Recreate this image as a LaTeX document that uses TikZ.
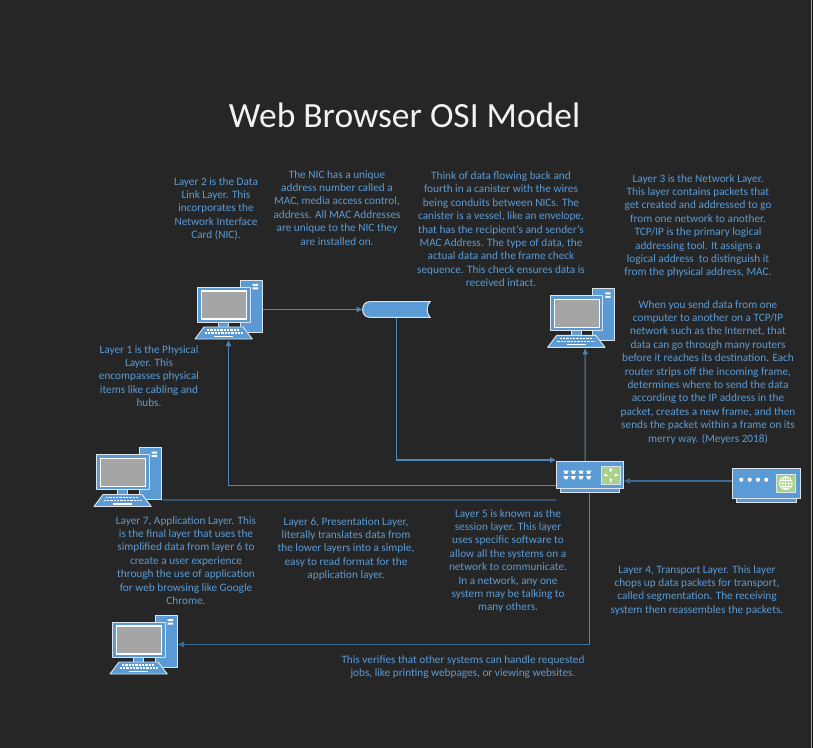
\documentclass[tikz,border=0pt]{standalone}
\usepackage{fontspec}
\setmainfont{Carlito}
\usetikzlibrary{arrows.meta}
\definecolor{bgc}{HTML}{262626}
\definecolor{office}{HTML}{5B9BD5}
\definecolor{linec}{HTML}{4F86B8}
\definecolor{thickc}{HTML}{3A6A96}
\definecolor{edge}{HTML}{DDE3E8}
\definecolor{scr}{HTML}{A5A5A5}
\definecolor{grn}{HTML}{A9D18E}
\tikzset{
  x=0.75pt,y=-0.75pt,
  txt/.style={text=office,font=\fontsize{8.45pt}{10.05pt}\selectfont,align=center,anchor=north,inner sep=0pt},
  titletxt/.style={text=white!95!black,font=\fontsize{26.6pt}{30pt}\selectfont,inner sep=0pt},
  devbox/.style={inner sep=0pt,outer sep=0pt,minimum width=#1},
  conn/.style={draw=linec,line width=0.8pt},
  connarrow/.style={conn,-{Latex[length=4.5pt,width=4.5pt]}},
  thickconn/.style={draw=thickc,line width=1.1pt},
  thickarrow/.style={thickconn,-{Latex[length=5pt,width=5pt]}},
  part/.style={fill=office,draw=edge,line width=0.7pt,line join=round},
  computer/.pic={
    \path[part] (45,0) rectangle (67,52);
    \path[fill=white] (57.7,4) rectangle (63,6) (57.7,7.5) rectangle (63,9.5);
    \path[part] (23.5,42) rectangle (33.5,47);
    \path[part] (2.5,7) rectangle (55,42);
    \path[fill=scr,draw=white,line width=0.8pt] (6.5,11) rectangle (51.7,39);
    \path[part] (9,47) -- (48,47) -- (57.3,59) -- (0,59) -- cycle;
    \foreach \r/\a/\b in {50/12/45,53/9.5/47.5}
      \draw[white,line width=1pt,dash pattern=on 1.8pt off 0.7pt] (\a,\r) -- (\b,\r);
    \path[fill=white] (19,55.5) rectangle (38,57);
  },
  basepart/.style={fill=office,draw=edge,line width=0.7pt},
  switchbox/.pic={
    \path[basepart] (4,26) rectangle (63.3,31);
    \path[basepart] (0,0) rectangle (67.7,27.4);
    \foreach \u in {10,17.3,25,32.7}
      \foreach \v in {11,16.4}
        \path[fill=white] (\u-2.6,\v-1.6) -- (\u+2.6,\v-1.6) -- (\u+1.2,\v+1.6) -- (\u-1.2,\v+1.6) -- cycle;
    \path[fill=grn,draw=edge,line width=0.6pt] (45.7,4.7) rectangle (64,22.7);
    \draw[white,line width=0.6pt,-{Latex[length=2.5pt,width=2.5pt]}] (54.8,10.7) -- (54.8,6);
    \draw[white,line width=0.6pt,-{Latex[length=2.5pt,width=2.5pt]}] (54.8,16.7) -- (54.8,21.4);
    \draw[white,line width=0.6pt,{Latex[length=2.5pt,width=2.5pt]}-] (47,13.7) -- (52,13.7);
    \draw[white,line width=0.6pt,{Latex[length=2.5pt,width=2.5pt]}-] (62.6,13.7) -- (57.6,13.7);
  },
  routerbox/.pic={
    \path[basepart] (4.4,28) rectangle (63.7,33.6);
    \path[basepart] (0,0) rectangle (67.7,29.6);
    \foreach \u in {9,17.4,25.7,34}
      \path[fill=white] (\u,11) circle[radius=2.1];
    \path[fill=grn,draw=edge,line width=0.6pt] (44.4,5.6) rectangle (62.7,23.3);
    \draw[white,line width=0.6pt] (53.5,14.5) circle[radius=6.4];
    \draw[white,line width=0.5pt] (53.5,8.1) -- (53.5,20.9) (47.1,14.5) -- (59.9,14.5)
      (48,11.3) -- (59,11.3) (48,17.7) -- (59,17.7);
    \draw[white,line width=0.5pt] (53.5,14.5) ellipse[x radius=3,y radius=6.4];
  },
  canister/.pic={
    \path[fill=office,draw=edge,line width=0.8pt]
      (67.3,0) -- (7,0) .. controls (2,0) and (0,4) .. (0,7.8) .. controls (0,11.6) and (2,15.6) .. (7,15.6) -- (67.3,15.6)
      .. controls (63.5,12) and (63.5,3.6) .. (67.3,0) -- cycle;
  }
}
\begin{document}
\begin{tikzpicture}
\path[fill=bgc] (0,0) rectangle (813,748);
\path[fill=black!65!bgc] (812,0) rectangle (813,748);
\path[fill=black!35!white] (811,0) rectangle (812,748);
\useasboundingbox (0,0) rectangle (813,748);

\node[titletxt] (title) at (404.5,115) {Web Browser OSI Model};

% device placeholders (for connector ends)
\node[devbox=50.25pt,minimum height=44.25pt] (pcA) at (228.5,309.5) {};
\node[devbox=50.25pt,minimum height=44.25pt] (pcB) at (581.2,317.8) {};
\node[devbox=50.25pt,minimum height=44.25pt] (pcC) at (128,477) {};
\node[devbox=50.25pt,minimum height=44.25pt] (pcD) at (144,644.5) {};
\node[devbox=50.5pt,minimum height=23.25pt] (switch) at (589.85,476.8) {};
\node[devbox=50.5pt,minimum height=25.5pt] (router) at (766.2,485.5) {};
\node[devbox=50.5pt,minimum height=11.7pt] (can) at (396.4,309.5) {};

% connectors
\draw[connarrow] (pcA.east) -- (can.west);
\draw[connarrow] (can.south) |- ([yshift=1pt]switch.north west);
\draw[connarrow] ([yshift=-6.2pt]switch.west) -| ([yshift=-0.75pt]pcA.south);
\draw[connarrow] ([xshift=-3.6pt]switch.north) -- ([xshift=3pt,yshift=-0.75pt]pcB.south);
\draw[thickarrow] ([yshift=3.4pt]router.west) -- ([yshift=3.4pt]router.west -| switch.east);
\draw[thickconn] ([yshift=-17.25pt]pcC.east) -- ([yshift=-17.4pt]switch.west);
\draw[conn] (switch.south) -- (switch.south |- pcD.east);
\draw[thickarrow] (switch.south |- pcD.east) -- (pcD.east);

% devices
\pic at (195,280) {computer};
\pic at (547.7,288.3) {computer};
\pic at (94,447.5) {computer};
\pic at (110,615) {computer};
\pic at (556,461.3) {switchbox};
\pic at (732.3,468.7) {routerbox};
\pic at (362.7,301.7) {canister};

% texts
\node[txt] (t2) at (216,177) {Layer 2 is the Data\\Link Layer. This\\incorporates the\\Network Interface\\Card (NIC).};
\node[txt] (tnic) at (337,170) {The NIC has a unique\\address number called a\\MAC, media access control,\\address. All MAC Addresses\\are unique to the NIC they\\are installed on.};
\node[txt] (tcan) at (501,171.5) {Think of data flowing back and\\fourth in a canister with the wires\\being conduits between NICs. The\\canister is a vessel, like an envelope,\\that has the recipient’s and sender’s\\MAC Address. The type of data, the\\actual data and the frame check\\sequence. This check ensures data is\\received intact.};
\node[txt] (t3) at (698,174) {Layer 3 is the Network Layer.\\This layer contains packets that\\get created and addressed to go\\from one network to another.\\TCP/IP is the primary logical\\addressing tool. It assigns a\\logical address\ \ to distinguish it\\from the physical address, MAC.};
\node[txt] (tsend) at (708,300) {When you send data from one\\computer to another on a TCP/IP\\network such as the Internet, that\\data can go through many routers\\before it reaches its destination. Each\\router strips off the incoming frame,\\determines where to send the data\\according to the IP address in the\\packet, creates a new frame, and then\\sends the packet within a frame on its\\merry way. (Meyers 2018)};
\node[txt] (t1) at (149,345) {Layer 1 is the Physical\\Layer. This\\encompasses physical\\items like cabling and\\hubs.};
\node[txt] (t7) at (186,516) {Layer 7, Application Layer. This\\is the final layer that uses the\\simplified data from layer 6 to\\create a user experience\\through the use of application\\for web browsing like Google\\Chrome.};
\node[txt] (t6) at (346,517) {Layer 6, Presentation Layer,\\literally translates data from\\the lower layers into a simple,\\easy to read format for the\\application layer.};
\node[txt] (t5) at (508,509) {Layer 5 is known as the\\session layer. This layer\\uses specific software to\\allow all the systems on a\\network to communicate.\\In a network, any one\\system may be talking to\\many others.};
\node[txt] (t4) at (697,565) {Layer 4, Transport Layer. This layer\\chops up data packets for transport,\\called segmentation. The receiving\\system then reassembles the packets.};
\node[txt] (tver) at (463,655) {This verifies that other systems can handle requested\\jobs, like printing webpages, or viewing websites.};
\end{tikzpicture}
\end{document}
